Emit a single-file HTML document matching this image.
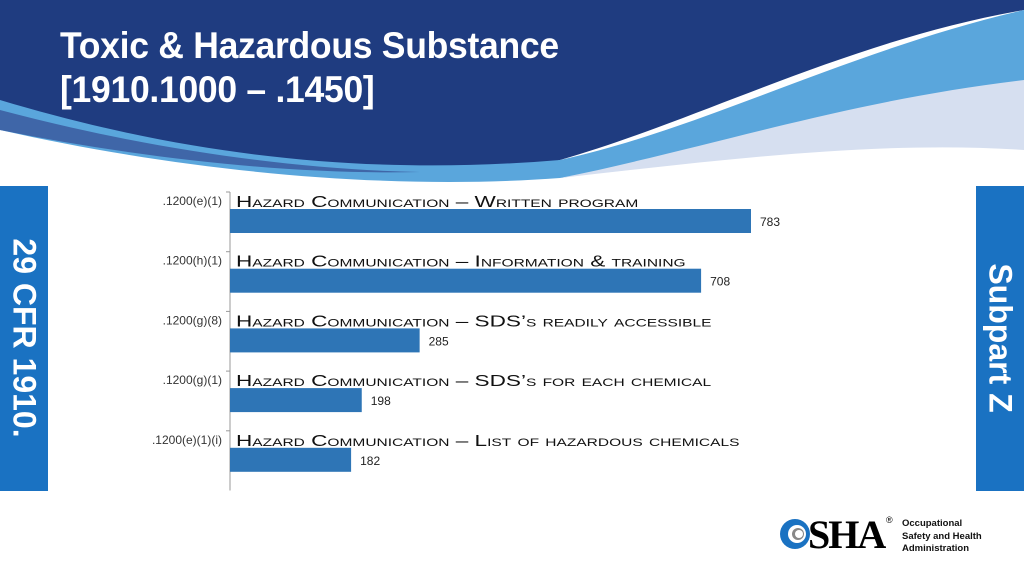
<!DOCTYPE html>
<html><head><meta charset="utf-8"><style>
body{margin:0;width:1024px;height:576px;overflow:hidden;background:#fff;font-family:"Liberation Sans",sans-serif;position:relative}
.abs{position:absolute}
</style></head><body>
<svg class="abs" style="left:0;top:0" width="1024" height="200">
<rect x="0" y="0" width="1024" height="200" fill="#fff"/>
<path d="M0 0 H1024 V10 C850 40 700 120 560 160 C420 195 250 175 0 110 Z" fill="#1f3c80"/>
<path d="M0 100 C200 160 380 175 560 160 C700 130 850 50 1024 10 V85 C850 110 700 160 560 178 C400 190 200 175 0 130 Z" fill="#5aa6dc"/>
<path d="M0 110 C150 150 300 170 420 172 C300 175 150 160 0 130 Z" fill="#3f66a8"/>
<path d="M560 178 C700 150 850 100 1024 80 V150 C880 140 720 160 560 178 Z" fill="#d6dff0"/>
</svg>
<div class="abs" style="left:60px;top:24px;color:#fff;font-size:37px;font-weight:bold;line-height:44px;letter-spacing:-0.3px;transform:scaleX(0.96);transform-origin:left top">Toxic &amp; Hazardous Substance<br>[1910.1000 – .1450]</div>
<div class="abs" style="left:0;top:186px;width:48px;height:305px;background:#1a72c2"></div>
<div class="abs" style="left:24px;top:338px;transform:translate(-50%,-50%) rotate(90deg);color:#fff;font-weight:bold;font-size:32px;white-space:nowrap">29 CFR 1910.</div>
<div class="abs" style="left:976px;top:186px;width:48px;height:305px;background:#1a72c2"></div>
<div class="abs" style="left:1000px;top:338px;transform:translate(-50%,-50%) rotate(90deg);color:#fff;font-weight:bold;font-size:32px;white-space:nowrap">Subpart Z</div>
<svg id="chart" class="abs" style="left:0;top:0" width="1024" height="576"></svg>
<div class="abs" style="left:778px;top:515px;width:220px;height:40px">
<svg width="40" height="40" style="position:absolute;left:0;top:2px"><circle cx="17" cy="17" r="15" fill="#1a72c2"/><circle cx="19" cy="17" r="9" fill="#fff"/><circle cx="20" cy="17" r="6" fill="#888"/><circle cx="21" cy="17" r="4" fill="#fff"/></svg>
<div style="position:absolute;left:30px;top:-4px;font-family:'Liberation Serif',serif;font-size:40px;font-weight:bold;letter-spacing:-2px;color:#000">SHA</div>
<div style="position:absolute;left:108px;top:0;font-size:9px">®</div>
<div style="position:absolute;left:124px;top:3px;font-size:9.5px;font-weight:bold;line-height:12.5px;color:#111">Occupational<br>Safety and Health<br>Administration</div>
</div>
<script>
const codes=[".1200(e)(1)",".1200(h)(1)",".1200(g)(8)",".1200(g)(1)",".1200(e)(1)(i)"];
const titles=["Hazard Communication – Written program","Hazard Communication – Information & training","Hazard Communication – SDS’s readily accessible","Hazard Communication – SDS’s for each chemical","Hazard Communication – List of hazardous chemicals"];
const values=[783,708,285,198,182];
const svg=document.getElementById('chart');const NS='http://www.w3.org/2000/svg';
const x0=230,scale=521/783,top0=192,step=59.7;
function xs(v){return x0+v*scale}
function yb(i){return top0+i*step}
function mk(t,a,txt){const e=document.createElementNS(NS,t);for(const k in a)e.setAttribute(k,a[k]);if(txt!=null)e.textContent=txt;svg.appendChild(e);return e}
let ax=mk('line',{x1:x0,y1:top0,x2:x0,y2:top0+values.length*step,stroke:'#999','stroke-width':1});


values.forEach((v,i)=>{
 const y=yb(i);
 let tk=mk('line',{x1:x0-4,y1:y,x2:x0,y2:y,stroke:'#999'});
 
 
 let c=mk('text',{x:x0-8,y:y+13,'text-anchor':'end','font-size':'12','fill':'#333'},codes[i]);
 
 
 let t=mk('text',{x:x0+6,y:y+15,'font-size':'16','fill':'#111','style':'font-variant:small-caps'},titles[i]);
 
 
 const len=t.getComputedTextLength();
 t.setAttribute('textLength',len*1.41);
 t.setAttribute('lengthAdjust','spacingAndGlyphs');
 let b=mk('rect',{x:x0,y:y+17,width:xs(v)-x0,height:24,fill:'#2e75b6'});
 
 
 let l=mk('text',{x:xs(v)+9,y:y+34,'font-size':'12','fill':'#222'},String(v));
 
 
});
</script>
</body></html>
